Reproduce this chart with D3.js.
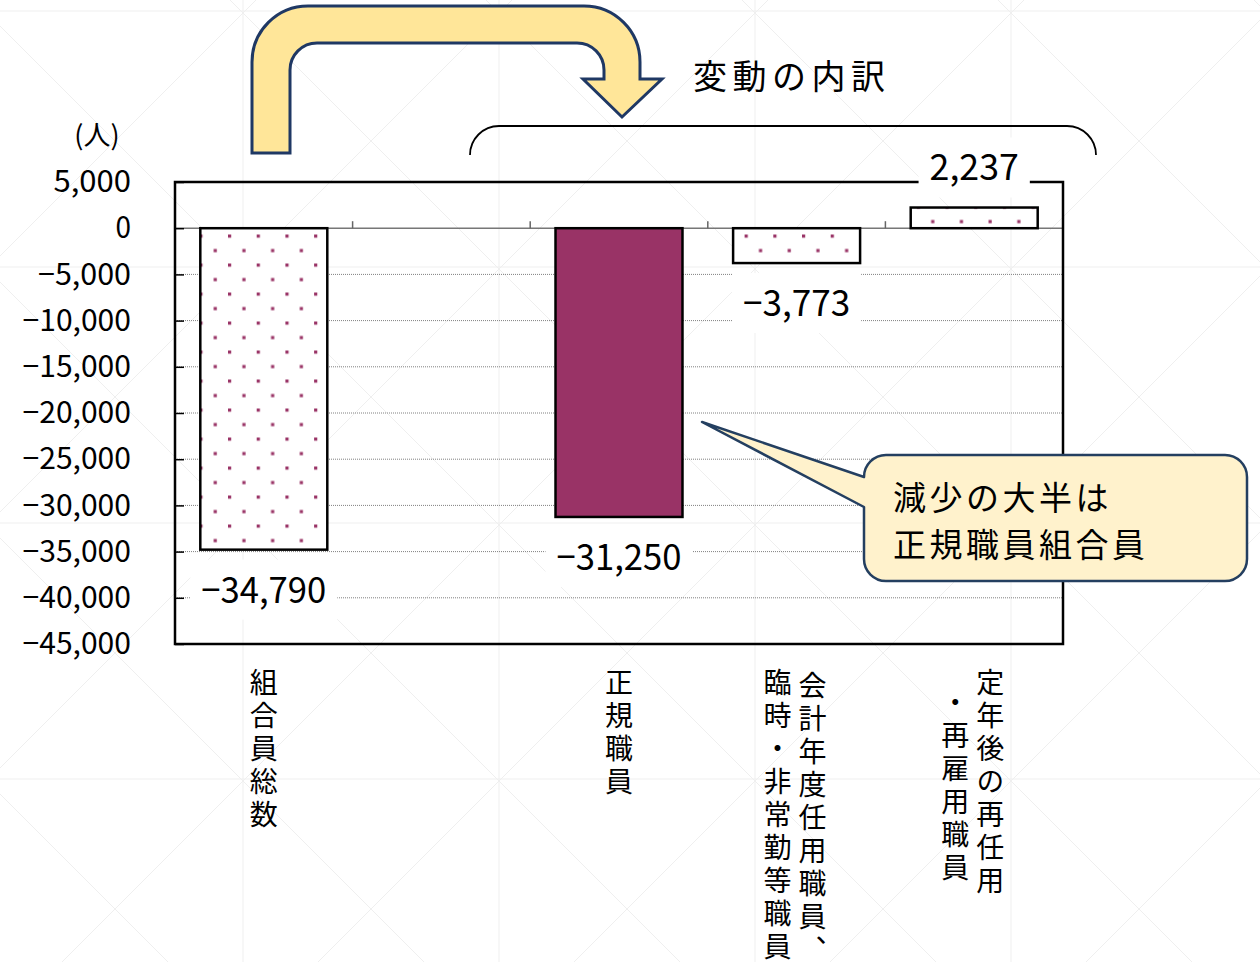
<!DOCTYPE html>
<html><head><meta charset="utf-8">
<script src="https://cdn.jsdelivr.net/npm/d3@7"></script>
<style>
html,body{margin:0;padding:0;background:#fff;}
svg{display:block;}
text{font-family:"Noto Sans CJK JP","Noto Sans",sans-serif;fill:#000;}
</style></head>
<body>
<svg id="chart" width="1260" height="962"></svg>
<script>
// ---- data ----
const categories = ["組合員総数", "（空欄）", "正規職員", "会計年度任用職員、臨時・非常勤等職員", "定年後の再任用・再雇用職員"];
const categoryLines = [["組合員総数"], [], ["正規職員"], ["会計年度任用職員、", "臨時・非常勤等職員"], ["定年後の再任用", "・再雇用職員"]];
const values = [-34790, null, -31250, -3773, 2237];
const yTicks = [5000, 0, -5000, -10000, -15000, -20000, -25000, -30000, -35000, -40000, -45000];
const gridValues = [-5000, -10000, -15000, -20000, -25000, -30000, -35000, -40000];
const unitLabel = "(人)";
const breakdownTitle = "変動の内訳";
const calloutLines = ["減少の大半は", "正規職員組合員"];
const highlighted = "正規職員";

// ---- layout ----
const svg = d3.select("#chart");
const plot = {x0: 175, x1: 1063, y0: 182, y1: 644};
const x = d3.scaleBand().domain(categories).range([plot.x0, plot.x1]).paddingInner(0).paddingOuter(0);
const barFrac = 0.715;
const y = d3.scaleLinear().domain([-45000, 5000]).range([plot.y1, plot.y0]);
const fmt = d3.format(",");

const defs = svg.append("defs");
const pat = defs.append("pattern").attr("id", "dots").attr("patternUnits", "userSpaceOnUse")
  .attr("x", 228).attr("y", 234.5).attr("width", 28.7).attr("height", 29);
pat.append("rect").attr("width", 28.7).attr("height", 29).attr("fill", "#fff");
pat.append("rect").attr("x", 0).attr("y", 0).attr("width", 3.2).attr("height", 3.2).attr("fill", "#993366");
pat.append("rect").attr("x", 14.35).attr("y", 14.5).attr("width", 3.2).attr("height", 3.2).attr("fill", "#993366");

// faint background watermark
const wm = svg.append("g").attr("stroke", "#efefef").attr("stroke-width", 1).attr("fill", "none");
for (let k = -1; k < 6; k++) {
  wm.append("line").attr("x1", -13 + k * 256).attr("x2", -13 + k * 256).attr("y1", 0).attr("y2", 962);
  wm.append("line").attr("y1", 11 + k * 256).attr("y2", 11 + k * 256).attr("x1", 0).attr("x2", 1260);
}
for (let k = -8; k < 12; k++) {
  const c = 1024 + k * 256;
  wm.append("line").attr("x1", c).attr("y1", 0).attr("x2", c - 962).attr("y2", 962);
  const d = -538 + k * 256;
  wm.append("line").attr("x1", d).attr("y1", 0).attr("x2", d + 962).attr("y2", 962);
}

// gridlines
svg.append("g").selectAll("line").data(gridValues).join("line")
  .attr("x1", plot.x0).attr("x2", plot.x1).attr("y1", d => y(d)).attr("y2", d => y(d))
  .attr("stroke", "#808080").attr("stroke-width", 1).attr("stroke-dasharray", "1,1");

// zero line with category ticks
svg.append("line").attr("x1", plot.x0).attr("x2", plot.x1).attr("y1", y(0)).attr("y2", y(0))
  .attr("stroke", "#777").attr("stroke-width", 1.5);
svg.append("g").selectAll("line").data(categories.slice(1)).join("line")
  .attr("x1", d => x(d)).attr("x2", d => x(d)).attr("y1", y(0) - 7).attr("y2", y(0))
  .attr("stroke", "#666").attr("stroke-width", 1.5);

// bars
const barData = categories.map((c, i) => ({c, v: values[i]})).filter(d => d.v !== null);
const bw = x.bandwidth() * barFrac;
svg.append("g").selectAll("rect").data(barData).join("rect")
  .attr("x", d => x(d.c) + (x.bandwidth() - bw) / 2)
  .attr("width", bw)
  .attr("y", d => y(Math.max(0, d.v)))
  .attr("height", d => Math.abs(y(d.v) - y(0)))
  .attr("fill", d => d.c === highlighted ? "#993366" : "url(#dots)")
  .attr("stroke", "#000").attr("stroke-width", 2.5);

// frame
svg.append("rect").attr("x", plot.x0).attr("y", plot.y0).attr("width", plot.x1 - plot.x0).attr("height", plot.y1 - plot.y0)
  .attr("fill", "none").attr("stroke", "#000").attr("stroke-width", 2.5);

// y axis
const yAxis = d3.axisLeft(y).tickValues(yTicks).tickFormat(fmt).tickSizeInner(-9).tickSizeOuter(0).tickPadding(44);
const ya = svg.append("g").attr("transform", `translate(${plot.x0},0)`).call(yAxis);
ya.select(".domain").remove();
ya.selectAll(".tick line").attr("stroke", "#000").attr("stroke-width", 1.5);
ya.selectAll(".tick text").attr("font-family", '"Noto Sans CJK JP",sans-serif').attr("font-size", 30)
  .attr("fill", "#000")
  .attr("textLength", d => fmt(d).length * 15.5).attr("lengthAdjust", "spacingAndGlyphs");

// value labels
const lblFs = 36, cw = 17.85;
const lg = svg.append("g").selectAll("g").data(barData).join("g")
  .attr("transform", d => `translate(${x(d.c) + x.bandwidth() / 2},${y(d.v) + (d.v < 0 ? 40 : -40)})`);
lg.append("rect").attr("x", d => -(fmt(d.v).length * cw) / 2 - 11).attr("width", d => fmt(d.v).length * cw + 22)
  .attr("y", -30).attr("height", 60).attr("fill", "#fff");
lg.append("text").attr("text-anchor", "middle").attr("dy", "0.36em").attr("font-size", lblFs)
  .attr("textLength", d => fmt(d.v).length * cw).attr("lengthAdjust", "spacingAndGlyphs")
  .text(d => fmt(d.v));

// category labels (vertical, one glyph per cell)
const colStart = [[682], [], [682], [685, 682], [682, 702]];
const cellStep = 33;
categories.forEach((c, i) => {
  const lines = categoryLines[i];
  const cx = x(c) + x.bandwidth() / 2;
  lines.forEach((line, j) => {
    const colX = lines.length === 1 ? cx : cx + 16 - j * 35;
    Array.from(line).forEach((ch, k) => {
      svg.append("text").attr("x", colX).attr("y", colStart[i][j] + k * cellStep)
        .attr("font-size", 28).attr("text-anchor", "middle")
        .style("writing-mode", "vertical-rl").style("text-orientation", "upright")
        .text(ch);
    });
  });
});

// unit label
svg.append("text").attr("x", 97).attr("y", 136).attr("dy", "0.35em").attr("text-anchor", "middle")
  .attr("font-size", 27).text(unitLabel);

// bent arrow
svg.append("path")
  .attr("d", "M252,153 L252,62 A56,56 0 0 1 308,6 L584,6 A56,56 0 0 1 640,62 L640,79 L662,79 L622,117 L583,79 L604,79 L604,70 A27,27 0 0 0 577,43 L317,43 A27,27 0 0 0 290,70 L290,153 Z")
  .attr("fill", "#FFE699").attr("stroke", "#1F3864").attr("stroke-width", 3).attr("stroke-linejoin", "miter");

// breakdown title & bracket
svg.append("text").attr("x", 693).attr("y", 77).attr("dy", "0.36em").attr("font-size", 34)
  .attr("textLength", 192).attr("lengthAdjust", "spacing").text(breakdownTitle);
svg.append("path").attr("d", "M470,155 A29,29 0 0 1 499,126 L1067,126 A29,29 0 0 1 1096,155")
  .attr("fill", "none").attr("stroke", "#000").attr("stroke-width", 1.8);

// callout
svg.append("path")
  .attr("d", "M886,455 L1225,455 A22,22 0 0 1 1247,477 L1247,559 A22,22 0 0 1 1225,581 L886,581 A22,22 0 0 1 864,559 L864,507 L702,422 L864,477 A22,22 0 0 1 886,455 Z")
  .attr("fill", "#FFF2CC").attr("stroke", "#243F60").attr("stroke-width", 2.5).attr("stroke-linejoin", "round");
svg.append("g").selectAll("text").data(calloutLines).join("text")
  .attr("x", 893).attr("y", (d, i) => 498 + i * 47).attr("dy", "0.36em").attr("font-size", 33)
  .attr("letter-spacing", 3.5).text(d => d);
</script>
</body></html>
